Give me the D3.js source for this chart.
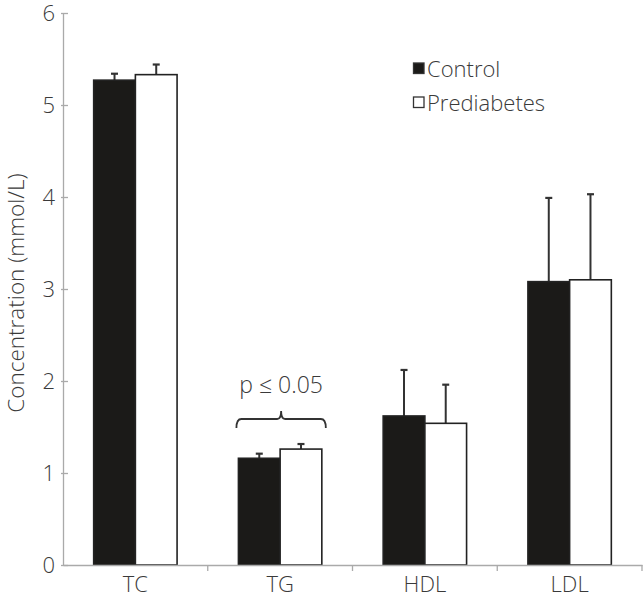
<!DOCTYPE html>
<html><head><meta charset="utf-8">
<script src="https://cdn.jsdelivr.net/npm/d3@7"></script>
<style>
body{margin:0;background:#fff;}
text{font-family:"Open Sans",sans-serif;font-weight:300;fill:#3a3a3a;}
</style></head><body>
<svg id="c" width="643" height="599"></svg>
<script>
const categories = ["TC","TG","HDL","LDL"];
const seriesNames = ["Control","Prediabetes"];
const controlMean = [5.27, 1.16, 1.62, 3.08];
const controlErr  = [0.07, 0.05, 0.50, 0.91];
const prediabMean = [5.33, 1.26, 1.54, 3.10];
const prediabErr  = [0.11, 0.055, 0.42, 0.93];
const yTicks = [0,1,2,3,4,5,6];

const svg = d3.select("#c");
const x = d3.scaleBand().domain(categories).range([63, 642]).padding(0);
const y = d3.scaleLinear().domain([0,6]).range([565, 13]);
const sub = d3.scaleBand().domain(seriesNames).range([0, 83.4]);
const barOffset = (x.bandwidth() - 83.4) / 2;

const data = [];
categories.forEach((c,i)=>{
  data.push({cat:c, s:"Control", v:controlMean[i], e:controlErr[i]});
  data.push({cat:c, s:"Prediabetes", v:prediabMean[i], e:prediabErr[i]});
});

// error bars
const eg = svg.append("g");
data.forEach(d=>{
  const cx = x(d.cat) + barOffset + sub(d.s) + sub.bandwidth()/2;
  eg.append("line").attr("x1",cx).attr("x2",cx).attr("y1",y(d.v)).attr("y2",y(d.v+d.e))
    .attr("stroke","#333").attr("stroke-width",2);
  eg.append("line").attr("x1",cx-3.5).attr("x2",cx+3.5).attr("y1",y(d.v+d.e)).attr("y2",y(d.v+d.e))
    .attr("stroke","#333").attr("stroke-width",2.2);
});

// bars
svg.append("g").selectAll("rect").data(data).join("rect")
  .attr("x", d=> x(d.cat) + barOffset + sub(d.s))
  .attr("y", d=> y(d.v))
  .attr("width", sub.bandwidth())
  .attr("height", d=> y(0) - y(d.v))
  .attr("fill", d=> d.s==="Control" ? "#1b1a18" : "#fff")
  .attr("stroke", "#222")
  .attr("stroke-width", 1.6);

// y axis
const ya = svg.append("g").attr("transform","translate(63,0)")
  .call(d3.axisLeft(y).tickValues(yTicks).tickFormat(d3.format("d")).tickSize(0).tickPadding(8));
ya.select(".domain").attr("stroke","#aaa").attr("stroke-width",1.3);
ya.selectAll(".tick line").attr("x1",-2).attr("x2",5).attr("stroke","#aaa").attr("stroke-width",1.3);
ya.selectAll(".tick text").attr("font-size",22).attr("font-family","Open Sans").attr("font-weight",300).attr("fill","#3a3a3a");

// x axis
const xa = svg.append("g").attr("transform","translate(0,565)")
  .call(d3.axisBottom(x).tickSize(0).tickPadding(11));
xa.select(".domain").attr("stroke","#aaa").attr("stroke-width",1.6);
xa.selectAll(".tick text").attr("font-size",22).attr("font-family","Open Sans").attr("font-weight",300).attr("fill","#3a3a3a");
const bounds = categories.map(c=>x(c)).concat([x.range()[1]]).slice(1);
xa.selectAll(".bnd").data(bounds).join("line").attr("class","bnd")
  .attr("x1",d=>d).attr("x2",d=>d).attr("y1",0).attr("y2",6)
  .attr("stroke","#aaa").attr("stroke-width",1.3);

// y label
svg.append("text").attr("transform","translate(24,293) rotate(-90)")
  .attr("text-anchor","middle").attr("font-size",22.5).text("Concentration (mmol/L)");

// legend
const lg = svg.append("g");
seriesNames.forEach((s,i)=>{
  const yy = 63 + i*34;
  lg.append("rect").attr("x",413.5).attr("y",yy).attr("width",10.5).attr("height",10.5)
    .attr("fill", i===0 ? "#1b1a18" : "#fff").attr("stroke","#333").attr("stroke-width",1.3);
  lg.append("text").attr("x",427).attr("y",yy+13.5).attr("font-size",22).text(s);
});

// significance bracket for TG
const tgL = x("TG") + barOffset - 2, tgR = x("TG") + barOffset + 83.4 + 4;
const mid = (tgL + tgR) / 2, by = 419;
svg.append("path")
  .attr("d", `M${tgL},${by+9} Q${tgL},${by} ${tgL+5},${by} L${mid-4},${by} Q${mid},${by} ${mid},${by-8} Q${mid},${by} ${mid+4},${by} L${tgR-5},${by} Q${tgR},${by} ${tgR},${by+9}`)
  .attr("fill","none").attr("stroke","#333").attr("stroke-width",1.8);
svg.append("text").attr("x",mid).attr("y",393).attr("text-anchor","middle").attr("font-size",23).text("p ≤ 0.05");
</script></body></html>
